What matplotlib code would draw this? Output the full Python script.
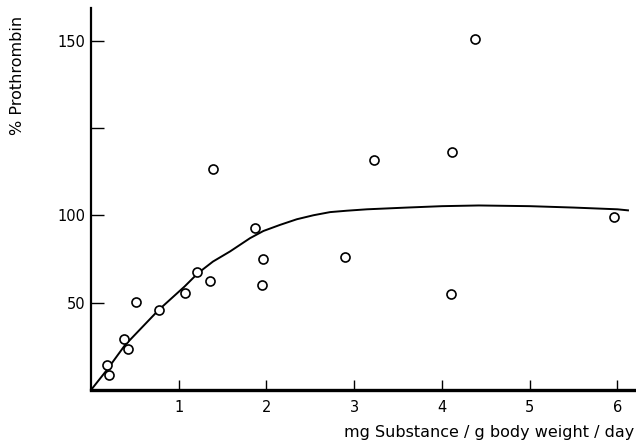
import matplotlib
matplotlib.use("Agg")
import matplotlib.pyplot as plt
import numpy as np

# measured points: dose (mg/g/day) vs % prothrombin
dose = [0.18, 0.205, 0.378, 0.424, 0.511, 0.773, 1.072, 1.205, 1.352, 1.39,
        1.872, 1.955, 1.95, 2.90, 3.22, 4.11, 4.10, 4.375, 5.96]
prothrombin = [14.1, 8.7, 29.3, 23.4, 50.3, 45.9, 55.4, 67.4, 62.5, 113.2,
               92.6, 75.0, 60.0, 76.2, 115.9, 118.2, 54.7, 150.4, 98.9]

# hand drawn fitted curve
curve_x = [0, 0.18, 0.386, 0.773, 1.068, 1.22, 1.39, 1.585, 1.813, 1.965, 2.155,
           2.345, 2.535, 2.725, 2.916, 3.144, 3.6, 4.0, 4.42, 5.0, 5.5, 6.0, 6.12]
curve_y = [0, 11.4, 25.6, 45.9, 59.3, 66.9, 73.5, 79.3, 86.9, 91.0, 94.5,
           97.7, 100.0, 100.9, 101.3, 101.7, 102.2, 102.6, 102.8, 102.6, 102.2, 101.7, 101.4]

x_ticks = [1, 2, 3, 4, 5, 6]
y_ticks = [50, 100, 125, 150]
y_tick_labels = ["50", "100", "", "150"]


# the printed y axis is stretched twice above 100
def fwd(y):
    y = np.asarray(y, dtype=float)
    return np.where(y <= 100, y, 100 + 2 * (y - 100))


def inv(v):
    v = np.asarray(v, dtype=float)
    return np.where(v <= 100, v, 100 + (v - 100) / 2)


fig = plt.figure(figsize=(6.36, 4.46), dpi=100)
ax = fig.add_axes([91 / 636, 56 / 446, 544 / 636, 382 / 446])
ax.set_yscale("function", functions=(fwd, inv))

ax.plot(curve_x, curve_y, color="black", lw=1.4)
ax.plot(dose, prothrombin, "o", mfc="white", mec="black", mew=1.2, ms=6.5)

ax.set_xlim(0, 6.2)
ax.set_ylim(0, 159.3)

ax.spines["top"].set_visible(False)
ax.spines["right"].set_visible(False)
ax.spines["left"].set_linewidth(1.6)
ax.spines["bottom"].set_linewidth(2.4)

ax.set_xticks(x_ticks)
ax.set_xticklabels([str(t) for t in x_ticks])
ax.set_yticks(y_ticks)
ax.set_yticklabels(y_tick_labels)
ax.yaxis.set_minor_locator(matplotlib.ticker.NullLocator())
ax.tick_params(axis="y", direction="in", length=9, width=1.0, pad=4, labelsize=10.5)
ax.tick_params(axis="x", direction="in", length=7, width=1.0, pad=7, labelsize=10.5)

fig.text(18 / 636, 1 - 75 / 446, "% Prothrombin", rotation=90,
         ha="center", va="center", fontsize=11.5)
fig.text(634 / 636, 1 - 432 / 446, "mg Substance / g body weight / day",
         ha="right", va="center", fontsize=11.5)

fig.savefig("out.png", dpi=100)
